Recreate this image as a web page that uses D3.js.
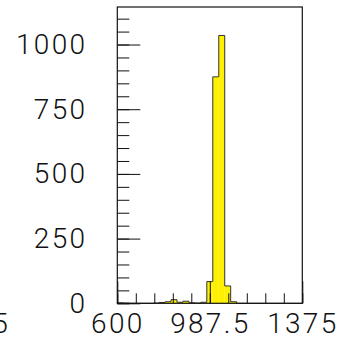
<!DOCTYPE html>
<html>
<head>
<meta charset="utf-8">
<script src="https://cdn.jsdelivr.net/npm/d3@7"></script>
<style>
  body { margin: 0; background: #fff; }
  text { font-family: Roboto, "DejaVu Sans", sans-serif; font-weight: 300; fill: #111; letter-spacing: 2.3px; }
</style>
</head>
<body>
<div id="chart"></div>
<script>
// histogram bins, 25 wide from 600 to 1375
var binEdges = d3.range(600, 1375 + 1, 25);
var binCounts = [2, 1, 0, 0, 0, 0, 1, 3, 6, 14, 4, 8, 2, 1, 4, 84, 875, 1035, 67, 6,
                 0, 0, 0, 0, 0, 0, 0, 0, 0, 0, 0];
var xTickLabels = [600, 987.5, 1375];
var yTickLabels = [0, 250, 500, 750, 1000];

var svgWidth = 344;
var svgHeight = 345;

var frame = { left: 117.3, right: 302.3, top: 7, bottom: 303.3 };

var svg = d3.select("#chart")
    .append("svg")
    .attr("width", svgWidth)
    .attr("height", svgHeight);

var x = d3.scaleLinear()
    .domain([600, 1375])
    .range([frame.left, frame.right]);

var y = d3.scaleLinear()
    .domain([0, 1145])
    .range([frame.bottom, frame.top]);

// bars
var bins = binCounts.map(function(c, i) {
    return { x0: binEdges[i], x1: binEdges[i + 1], n: c };
});

svg.append("g").selectAll("rect")
    .data(bins)
    .enter()
    .append("rect")
    .attr("x", d => x(d.x0))
    .attr("y", d => y(d.n))
    .attr("width", d => x(d.x1) - x(d.x0))
    .attr("height", d => y(0) - y(d.n))
    .attr("fill", "#fff000");

// outline as a step line
var stepPts = bins.map(d => [d.x0, d.n]);
stepPts.push([1375, binCounts[binCounts.length - 1]]);
var line = d3.line()
    .x(d => x(d[0]))
    .y(d => y(d[1]))
    .curve(d3.curveStepAfter);

svg.append("path")
    .attr("d", line(stepPts))
    .attr("fill", "none")
    .attr("stroke", "#333")
    .attr("stroke-width", 1);

// y axis, ticks point inward
var yMinor = d3.range(0, 1101, 50);
svg.append("g")
    .attr("transform", `translate(${frame.left},0)`)
    .call(d3.axisLeft(y).tickValues(yMinor).tickSize(-12).tickFormat(""))
    .call(g => g.select(".domain").remove());

svg.append("g")
    .attr("transform", `translate(${frame.left},0)`)
    .call(d3.axisLeft(y).tickValues(yTickLabels).tickSize(-23).tickPadding(30)
        .tickFormat(d3.format("d")))
    .call(g => g.select(".domain").remove())
    .call(g => g.selectAll("text").style("font-size", "28px"));

// x axis
var xMinor = d3.range(600, 1376, 77.5);
svg.append("g")
    .attr("transform", `translate(0,${frame.bottom})`)
    .call(d3.axisBottom(x).tickValues(xMinor).tickSize(-10).tickFormat(""))
    .call(g => g.select(".domain").remove());

svg.append("g")
    .attr("transform", `translate(0,${frame.bottom})`)
    .call(d3.axisBottom(x).tickValues(xTickLabels).tickSize(-22).tickPadding(10)
        .tickFormat(d => d))
    .call(g => g.select(".domain").remove())
    .call(g => g.selectAll("text").style("font-size", "28px").attr("dy", "0.71em"));

svg.selectAll(".tick line").attr("stroke", "#111");

// frame
svg.append("rect")
    .attr("x", frame.left)
    .attr("y", frame.top)
    .attr("width", frame.right - frame.left)
    .attr("height", frame.bottom - frame.top)
    .attr("fill", "none")
    .attr("stroke", "#111")
    .attr("stroke-width", 1.2);

// label clipped from the neighbouring pad
svg.append("text")
    .attr("x", 10)
    .attr("y", frame.bottom + 10)
    .attr("dy", "0.71em")
    .attr("text-anchor", "end")
    .style("font-size", "28px")
    .text("1375");
</script>
</body>
</html>
